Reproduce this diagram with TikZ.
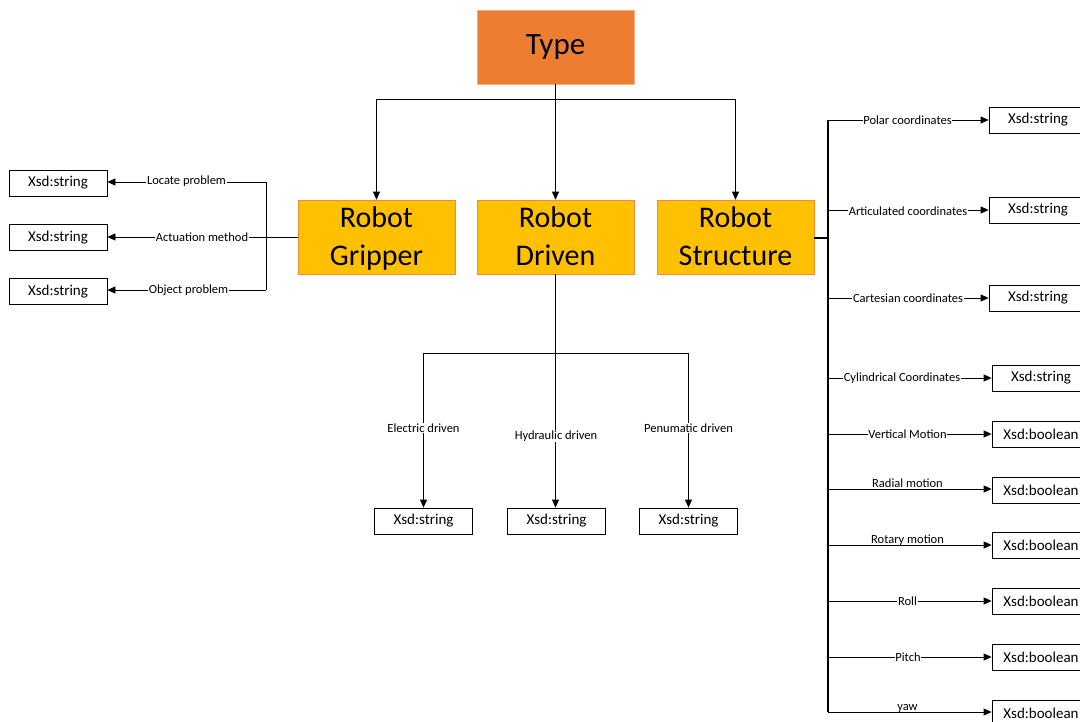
\documentclass[tikz,border=0pt]{standalone}
\usepackage{fontspec}
\setmainfont{Carlito}
\usetikzlibrary{arrows.meta}
\definecolor{typeor}{HTML}{ED7D31}
\definecolor{typebd}{HTML}{F4B183}
\definecolor{robyel}{HTML}{FFC000}
\definecolor{robbd}{HTML}{F08A3C}
\newcommand{\toprl}{\rule{0pt}{27pt}}
\newcommand{\botrl}{\rule[-8pt]{0pt}{8pt}}
\begin{document}
\begin{tikzpicture}[x=1pt,y=-1pt,
 arr/.style={-{Triangle[length=8pt,width=7pt]}, line width=0.8pt},
 ln/.style={line width=0.8pt},
 thk/.style={line width=1.6pt},
 xbox/.style={draw, line width=0.8pt, minimum width=98pt, minimum height=26pt, inner sep=0pt, font=\fontsize{15}{17}\selectfont},
 lbl/.style={fill=white, inner sep=0.6pt, font=\fontsize{12.5}{14}\selectfont},
 ulbl/.style={inner sep=0pt, anchor=base, font=\fontsize{12.5}{14}\selectfont},
 robot/.style={draw=robbd, fill=robyel, line width=0.6pt, minimum width=157pt, minimum height=74pt, align=center, inner sep=0pt, font=\fontsize{30}{39}\selectfont},
 typebox/.style={draw=typebd, fill=typeor, line width=0.6pt, minimum width=157pt, minimum height=74pt, inner sep=0pt, text height=24pt, text depth=8pt, font=\fontsize{31}{34}\selectfont}
]
\useasboundingbox (0,0) rectangle (1080,722);

% main boxes
\node[typebox] (type) at (555.5,47) {Type};
\node[robot] (grip) at (376.5,237) {\toprl Robot\\Gripper\botrl};
\node[robot] (drive) at (555.5,237) {\toprl Robot\\Driven\botrl};
\node[robot] (struct) at (735.5,237) {\toprl Robot\\Structure\botrl};

% Type connectors
\coordinate (tj) at (555.5,99);
\draw[ln] (grip.north |- tj) -- (struct.north |- tj);
\draw[arr] (type.south) -- (drive.north);
\draw[arr] (grip.north |- tj) -- (grip.north);
\draw[arr] (struct.north |- tj) -- (struct.north);

% Gripper side
\node[xbox] (g1) at (58,183) {Xsd:string};
\node[xbox] (g2) at (58,237.5) {Xsd:string};
\node[xbox] (g3) at (58,291.5) {Xsd:string};
\coordinate (gs1) at (266,182);
\coordinate (gs2) at (266,237);
\coordinate (gs3) at (266,290);
\draw[ln] (grip.west |- gs2) -- (gs2);
\draw[ln] (gs1) -- (gs3);
\draw[arr] (gs1) -- (g1.east |- gs1);
\draw[arr] (gs2) -- (g2.east |- gs2);
\draw[arr] (gs3) -- (g3.east |- gs3);
\node[lbl] at (186.5,181) {Locate problem};
\node[lbl] at (202,237) {Actuation method};
\node[lbl] at (188.5,290) {Object problem};

% Driven side
\node[xbox] (d1) at (423.5,521) {Xsd:string};
\node[xbox] (d2) at (556.5,521) {Xsd:string};
\node[xbox] (d3) at (688.5,521) {Xsd:string};
\coordinate (dj) at (555.5,353);
\draw[thk] (drive.south) -- (dj);
\draw[ln] (d1.north |- dj) -- (d3.north |- dj);
\draw[arr] (dj) -- (d2.north -| dj);
\draw[arr] (d1.north |- dj) -- (d1.north);
\draw[arr] (d3.north |- dj) -- (d3.north);
\node[lbl] at (423.5,428) {Electric driven};
\node[lbl] at (556,436) {Hydraulic driven};
\node[lbl] at (688.5,428) {Penumatic driven};

% Structure side
\coordinate (sj) at (828,238);
\coordinate (stop) at (828,120);
\coordinate (sbot) at (828,712);
\draw[thk] (struct.east |- sj) -- (sj);
\draw[thk] (stop) -- (sbot);

\node[xbox] (r1) at (1038,120) {Xsd:string};
\node[xbox] (r2) at (1038,210) {Xsd:string};
\node[xbox] (r3) at (1038,298) {Xsd:string};
\node[xbox] (r4) at (1041,378) {Xsd:string};
\node[xbox] (r5) at (1041,434) {Xsd:boolean};
\node[xbox] (r6) at (1041,490) {Xsd:boolean};
\node[xbox] (r7) at (1041,545) {Xsd:boolean};
\node[xbox] (r8) at (1041,601) {Xsd:boolean};
\node[xbox] (r9) at (1041,657) {Xsd:boolean};
\node[xbox] (r10) at (1041,713) {Xsd:boolean};

\coordinate (p1) at (828,120);
\coordinate (p2) at (828,210);
\coordinate (p3) at (828,298);
\coordinate (p4) at (828,378);
\coordinate (p5) at (828,434);
\coordinate (p6) at (828,489);
\coordinate (p7) at (828,545);
\coordinate (p8) at (828,601);
\coordinate (p9) at (828,657);
\coordinate (p10) at (828,712);
\draw[arr] (p1) -- (r1.west |- p1);
\draw[arr] (p2) -- (r2.west |- p2);
\draw[arr] (p3) -- (r3.west |- p3);
\draw[arr] (p4) -- (r4.west |- p4);
\draw[arr] (p5) -- (r5.west |- p5);
\draw[arr] (p6) -- (r6.west |- p6);
\draw[arr] (p7) -- (r7.west |- p7);
\draw[arr] (p8) -- (r8.west |- p8);
\draw[arr] (p9) -- (r9.west |- p9);
\draw[arr] (p10) -- (r10.west |- p10);

\node[lbl] at (907.5,120) {Polar coordinates};
\node[lbl] at (908,211) {Articulated coordinates};
\node[lbl] at (908,298) {Cartesian coordinates};
\node[lbl] at (902,378) {Cylindrical Coordinates};
\node[lbl] at (907.5,434) {Vertical Motion};
\node[ulbl] at (907.5,487) {Radial motion};
\node[ulbl] at (907.5,543) {Rotary motion};
\node[lbl] at (907.5,601) {Roll};
\node[lbl] at (908,657) {Pitch};
\node[ulbl] at (907.5,710) {yaw};
\end{tikzpicture}
\end{document}
